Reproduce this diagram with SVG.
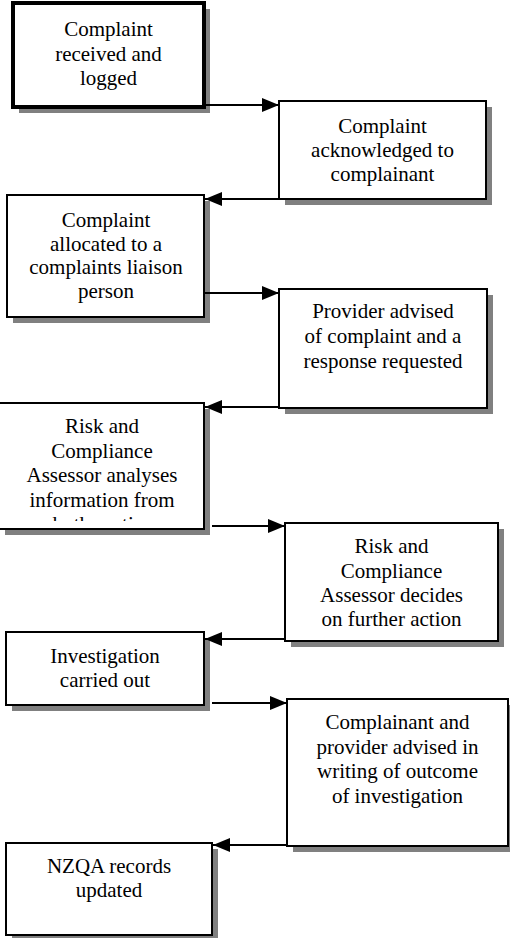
<svg xmlns="http://www.w3.org/2000/svg" width="510" height="938" viewBox="0 0 510 938">
<style>
  .shadow { fill: #808080; stroke: none; }
  .box { fill: #ffffff; stroke: #000000; stroke-width: 2; }
  .thick { stroke-width: 4; }
  .lbl { font-size: 21px; fill: #000000; text-anchor: middle; }
  .conn { fill: none; stroke: #000000; stroke-width: 2; marker-end: url(#arrow); }
</style>
<defs>
  <marker id="arrow" markerUnits="userSpaceOnUse" markerWidth="18" markerHeight="14" refX="17" refY="7" orient="auto">
    <path d="M0,0 L17,7 L0,14 Z" fill="#000000"/>
  </marker>
  <clipPath id="clip5">
    <rect x="0" y="404" width="203" height="117"/>
  </clipPath>
</defs>
<rect width="510" height="938" fill="#ffffff"/>
<g font-family="Liberation Serif, Times New Roman, serif">

<g id="node1">
  <rect class="shadow" x="19" y="9" width="191" height="104"/>
  <rect class="box thick" x="13" y="3" width="191" height="104"/>
  <text class="lbl" x="108.5" y="36">Complaint</text>
  <text class="lbl" x="108.5" y="60.5">received and</text>
  <text class="lbl" x="108.5" y="85">logged</text>
</g>

<g id="node2">
  <rect class="shadow" x="285" y="107" width="207" height="98"/>
  <rect class="box" x="279" y="101" width="207" height="98"/>
  <text class="lbl" x="382.5" y="133">Complaint</text>
  <text class="lbl" x="382.5" y="157">acknowledged to</text>
  <text class="lbl" x="382.5" y="181">complainant</text>
</g>

<g id="node3">
  <rect class="shadow" x="13" y="201" width="197" height="122"/>
  <rect class="box" x="7" y="195" width="197" height="122"/>
  <text class="lbl" x="106" y="227">Complaint</text>
  <text class="lbl" x="106" y="250.5">allocated to a</text>
  <text class="lbl" x="106" y="274">complaints liaison</text>
  <text class="lbl" x="106" y="298">person</text>
</g>

<g id="node4">
  <rect class="shadow" x="285" y="295" width="208" height="119"/>
  <rect class="box" x="279" y="289" width="208" height="119"/>
  <text class="lbl" x="383" y="318">Provider advised</text>
  <text class="lbl" x="383" y="343">of complaint and a</text>
  <text class="lbl" x="383" y="368">response requested</text>
</g>

<g id="node5">
  <rect class="shadow" x="5" y="409" width="205" height="126"/>
  <rect class="box" x="-1" y="403" width="205" height="126"/>
  <g clip-path="url(#clip5)">
    <text class="lbl" x="102" y="433">Risk and</text>
    <text class="lbl" x="102" y="457.5">Compliance</text>
    <text class="lbl" x="102" y="482">Assessor analyses</text>
    <text class="lbl" x="102" y="506.5">information from</text>
    <text class="lbl" x="102" y="531">both parties</text>
  </g>
</g>

<g id="node6">
  <rect class="shadow" x="291" y="529" width="213" height="118"/>
  <rect class="box" x="285" y="523" width="213" height="118"/>
  <text class="lbl" x="391.5" y="553">Risk and</text>
  <text class="lbl" x="391.5" y="577.5">Compliance</text>
  <text class="lbl" x="391.5" y="602">Assessor decides</text>
  <text class="lbl" x="391.5" y="626">on further action</text>
</g>

<g id="node7">
  <rect class="shadow" x="12" y="638" width="198" height="73"/>
  <rect class="box" x="6" y="632" width="198" height="73"/>
  <text class="lbl" x="105" y="663">Investigation</text>
  <text class="lbl" x="105" y="687">carried out</text>
</g>

<g id="node8">
  <rect class="shadow" x="293" y="705" width="221" height="147"/>
  <rect class="box" x="287" y="699" width="221" height="147"/>
  <text class="lbl" x="397.5" y="729">Complainant and</text>
  <text class="lbl" x="397.5" y="753.5">provider advised in</text>
  <text class="lbl" x="397.5" y="778">writing of outcome</text>
  <text class="lbl" x="397.5" y="802.5">of investigation</text>
</g>

<g id="node9">
  <rect class="shadow" x="12" y="849" width="206" height="92"/>
  <rect class="box" x="6" y="843" width="206" height="92"/>
  <text class="lbl" x="109" y="873">NZQA records</text>
  <text class="lbl" x="109" y="897">updated</text>
</g>
</g>

<g id="connectors">
  <line class="conn" x1="204" y1="105" x2="279" y2="105"/>
  <line class="conn" x1="279" y1="199" x2="205" y2="199"/>
  <line class="conn" x1="205" y1="293" x2="279" y2="293"/>
  <line class="conn" x1="279" y1="407" x2="205" y2="407"/>
  <line class="conn" x1="212" y1="526" x2="285" y2="526"/>
  <line class="conn" x1="285" y1="639" x2="205" y2="639"/>
  <line class="conn" x1="212" y1="703" x2="287" y2="703"/>
  <line class="conn" x1="287" y1="845" x2="213" y2="845"/>
</g>
</svg>
